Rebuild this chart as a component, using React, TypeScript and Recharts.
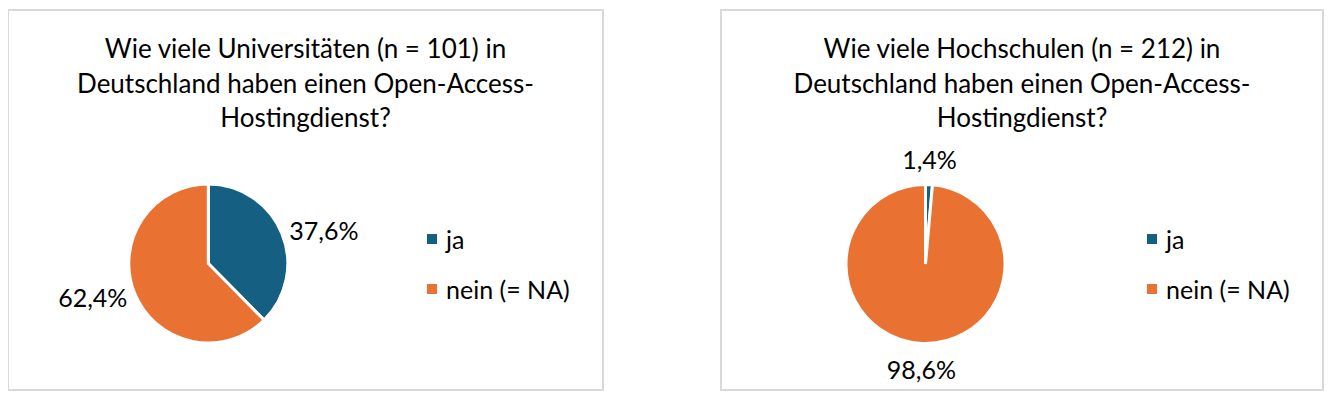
import { PieChart, Pie, Cell, Legend } from 'recharts';

// Data
const categories = ['ja', 'nein (= NA)'];
const uniShares = [37.6, 62.4];
const hsShares = [1.4, 98.6];
const uniTitle = [
  'Wie viele Universitäten (n = 101) in',
  'Deutschland haben einen Open-Access-',
  'Hostingdienst?',
];
const hsTitle = [
  'Wie viele Hochschulen (n = 212) in',
  'Deutschland haben einen Open-Access-',
  'Hostingdienst?',
];

const COLORS = ['#156082', '#E97132'];
const FONT = 'Lato, "Open Sans", sans-serif';
const FONT_SIZE = 25;
const RAD = Math.PI / 180;

interface LabelProps {
  cx: number;
  cy: number;
  midAngle: number;
  outerRadius: number;
  value: number;
}

function renderLabel({ cx, cy, midAngle, outerRadius, value }: LabelProps) {
  const dx = Math.cos(-midAngle * RAD);
  const dy = Math.sin(-midAngle * RAD);
  const vertical = Math.abs(dy) > 0.9;
  const gap = vertical ? 12 : 8;
  const x = cx + (outerRadius + gap) * dx;
  let y = cy + (outerRadius + gap) * dy;
  if (vertical) y += dy * 14;
  const anchor = vertical ? 'middle' : dx > 0 ? 'start' : 'end';
  return (
    <text
      x={x}
      y={y}
      textAnchor={anchor}
      dominantBaseline="central"
      fill="#000"
      fontSize={FONT_SIZE}
      fontFamily={FONT}
    >
      {`${value.toFixed(1).replace('.', ',')}%`}
    </text>
  );
}

interface LegendEntry {
  value: string;
  color?: string;
}

function LegendContent({ payload }: { payload?: LegendEntry[] }) {
  if (!payload) return null;
  return (
    <div>
      {payload.map((p) => (
        <div
          key={p.value}
          style={{ display: 'flex', alignItems: 'center', height: 50, fontSize: FONT_SIZE, fontFamily: FONT }}
        >
          <span style={{ width: 10, height: 10, background: p.color, marginRight: 9, display: 'inline-block' }} />
          <span>{p.value}</span>
        </div>
      ))}
    </div>
  );
}

interface PanelProps {
  left: number;
  width: number;
  title: string[];
  shares: number[];
  cx: number;
  cy: number;
  legendLeft: number;
}

function Panel({ left, width, title, shares, cx, cy, legendLeft }: PanelProps) {
  const data = categories.map((name, i) => ({ name, value: shares[i] }));
  const innerW = width - 4;
  const innerH = 378;
  return (
    <div
      style={{
        position: 'absolute',
        left,
        top: 1,
        width,
        height: 382,
        boxSizing: 'border-box',
        border: '2px solid #d9d9d9',
        background: '#fff',
      }}
    >
      <div
        style={{
          position: 'absolute',
          left: 0,
          top: 20,
          width: innerW,
          textAlign: 'center',
          fontFamily: FONT,
          fontSize: 26,
          lineHeight: '34.5px',
          color: '#000',
        }}
      >
        {title.map((line) => (
          <div key={line}>{line}</div>
        ))}
      </div>
      <div style={{ position: 'absolute', left: 0, top: 0 }}>
        <PieChart width={innerW} height={innerH} margin={{ top: 0, right: 0, bottom: 0, left: 0 }}>
          <Pie
            data={data}
            dataKey="value"
            nameKey="name"
            cx={cx}
            cy={cy}
            outerRadius={79.5}
            startAngle={90}
            endAngle={-270}
            stroke="#fff"
            strokeWidth={3}
            label={renderLabel}
            labelLine={false}
            isAnimationActive={false}
          >
            {data.map((d, i) => (
              <Cell key={d.name} fill={COLORS[i]} />
            ))}
          </Pie>
          <Legend
            layout="vertical"
            content={<LegendContent />}
            wrapperStyle={{ left: legendLeft, top: 202.5, width: 'auto', bottom: 'auto' }}
          />
        </PieChart>
      </div>
    </div>
  );
}

export default function App() {
  return (
    <div style={{ position: 'relative', width: 1320, height: 387 }}>
      <Panel left={-1} width={597} title={uniTitle} shares={uniShares} cx={199.3} cy={252.5} legendLeft={418} />
      <Panel left={712} width={604} title={hsTitle} shares={hsShares} cx={203.5} cy={253} legendLeft={425} />
    </div>
  );
}
